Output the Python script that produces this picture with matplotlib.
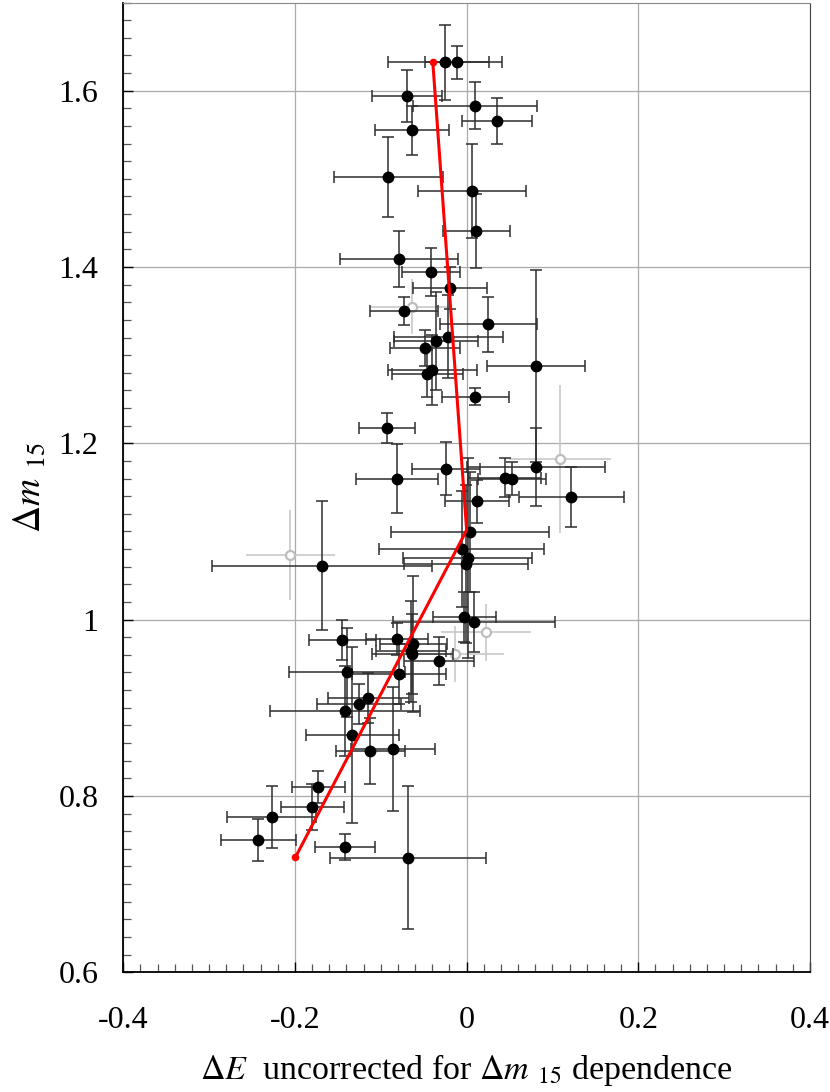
import matplotlib
matplotlib.use("Agg")
import matplotlib.pyplot as plt
from matplotlib.ticker import MultipleLocator, FixedLocator, FixedFormatter

plt.rcParams['font.family'] = ['Liberation Serif', 'DejaVu Serif']
plt.rcParams['mathtext.fontset'] = 'stix'

# measured SNe (filled)
de = [-0.0251, -0.0111, -0.0693, 0.0099, 0.0352, -0.0639, -0.0911, 0.0061, 0.0111, -0.0787,
      -0.0414, -0.0192, -0.0728, 0.0254, -0.0212, -0.0355, -0.0484, -0.0399, -0.0457, 0.0807,
      0.0099, -0.0927, -0.0810, -0.0242, 0.0441, 0.0527, 0.0807, 0.1218, 0.0119, 0.0041,
      -0.0056, 0.0014, -0.0009, -0.1681, -0.0026, 0.0087, -0.1448, -0.0807, -0.0620, -0.0650,
      -0.0632, -0.0321, -0.1393, -0.0787, -0.1145, -0.1253, -0.1416, -0.1331, -0.1121, -0.0860,
      -0.1727, -0.1797, -0.2270, -0.2427, -0.1413, -0.0682]
dm15 = [1.632, 1.632, 1.594, 1.583, 1.566, 1.555, 1.502, 1.486, 1.441, 1.409,
        1.394, 1.376, 1.350, 1.335, 1.321, 1.316, 1.308, 1.283, 1.279, 1.288,
        1.253, 1.217, 1.160, 1.171, 1.161, 1.160, 1.173, 1.139, 1.134, 1.099,
        1.080, 1.070, 1.063, 1.061, 1.003, 0.997, 0.977, 0.978, 0.972, 0.964,
        0.961, 0.953, 0.940, 0.938, 0.911, 0.904, 0.896, 0.869, 0.851, 0.853,
        0.810, 0.787, 0.776, 0.750, 0.742, 0.730]
de_err = [0.066, 0.037, 0.041, 0.072, 0.041, 0.043, 0.064, 0.063, 0.039, 0.069,
          0.034, 0.043, 0.040, 0.057, 0.063, 0.049, 0.041, 0.052, 0.041, 0.057,
          0.039, 0.033, 0.048, 0.040, 0.042, 0.040, 0.080, 0.061, 0.037, 0.092,
          0.096, 0.075, 0.072, 0.128, 0.037, 0.094, 0.039, 0.036, 0.039, 0.041,
          0.047, 0.041, 0.068, 0.055, 0.047, 0.049, 0.087, 0.054, 0.040, 0.049,
          0.031, 0.037, 0.052, 0.044, 0.035, 0.091]
dm15_err = [0.043, 0.019, 0.030, 0.027, 0.026, 0.028, 0.045, 0.053, 0.042, 0.032,
            0.027, 0.024, 0.016, 0.031, 0.047, 0.056, 0.020, 0.040, 0.027, 0.109,
            0.010, 0.017, 0.039, 0.030, 0.022, 0.019, 0.044, 0.034, 0.024, 0.068,
            0.066, 0.113, 0.090, 0.073, 0.028, 0.034, 0.023, 0.018, 0.077, 0.057,
            0.045, 0.027, 0.051, 0.034, 0.028, 0.023, 0.051, 0.100, 0.037, 0.070,
            0.018, 0.026, 0.035, 0.024, 0.015, 0.081]

# excluded SNe (open, grey)
de_x = [-0.0639, 0.1086, -0.2054, 0.0224, -0.0134]
dm15_x = [1.355, 1.1825, 1.073, 0.9856, 0.961]
de_x_err = [0.047, 0.059, 0.052, 0.052, 0.057]
dm15_x_err = [0.031, 0.084, 0.051, 0.032, 0.032]

# fitted relation
fit_de = [-0.0394, 0.0, -0.1995]
fit_dm15 = [1.632, 1.1015, 0.7304]

fig = plt.figure(figsize=(8.3, 10.92), dpi=100)
ax = fig.add_axes([123.3 / 830, (1092 - 972.2) / 1092, 686.7 / 830, 969.65 / 1092])

ax.errorbar(de_x, dm15_x, xerr=de_x_err, yerr=dm15_x_err, fmt='o', ms=6.5,
            mfc='white', mec='#bdbdbd', mew=1.6, ecolor='#c8c8c8', elinewidth=1.2,
            capsize=0, zorder=2)
ax.errorbar(de, dm15, xerr=de_err, yerr=dm15_err, fmt='o', ms=7.5, color='black',
            ecolor='#2e2e2e', elinewidth=1.1, capsize=4.3, capthick=1.1, zorder=3)
ax.plot(fit_de, fit_dm15, color='red', lw=2.2, zorder=4)
ax.plot([fit_de[0], fit_de[-1]], [fit_dm15[0], fit_dm15[-1]], 'o', color='red', ms=4.5, zorder=5)

ax.set_xlim(-0.4, 0.4)
ax.set_ylim(0.6, 1.7)

xt = [-0.4, -0.2, 0, 0.2, 0.4]
yt = [0.6, 0.8, 1.0, 1.2, 1.4, 1.6]
ax.xaxis.set_major_locator(FixedLocator(xt))
ax.xaxis.set_major_formatter(FixedFormatter(['-0.4', '-0.2', '0', '0.2', '0.4']))
ax.yaxis.set_major_locator(FixedLocator(yt))
ax.yaxis.set_major_formatter(FixedFormatter(['0.6', '0.8', '1', '1.2', '1.4', '1.6']))
ax.xaxis.set_minor_locator(MultipleLocator(0.02))
ax.yaxis.set_minor_locator(MultipleLocator(0.02))

ax.tick_params(which='both', direction='in', top=False, right=False, labelsize=23)
ax.tick_params(which='major', length=7.5, width=1.0, color='black')
ax.tick_params(which='minor', length=5.5, width=0.9, color='#555555')
ax.tick_params(axis='x', which='major', pad=24)
ax.tick_params(axis='y', which='major', pad=18)

ax.grid(True, which='major', color='#aaaaaa', lw=0.9)
ax.set_axisbelow(True)

for s in ['left', 'bottom']:
    ax.spines[s].set_linewidth(1.3)
    ax.spines[s].set_color('black')
ax.spines['top'].set_color('#888888')
ax.spines['right'].set_color('#444444')

ax.set_xlabel(r'$\Delta E$  uncorrected for $\Delta m$ $_{15}$ dependence', fontsize=24.5, va='center')
ax.xaxis.set_label_coords(0.5, -0.101)
ax.set_ylabel(r'$\Delta m$ $_{15}$', fontsize=27, va='center')
ax.yaxis.set_label_coords(-0.136, 0.5)

fig.savefig('out.png', dpi=100)
